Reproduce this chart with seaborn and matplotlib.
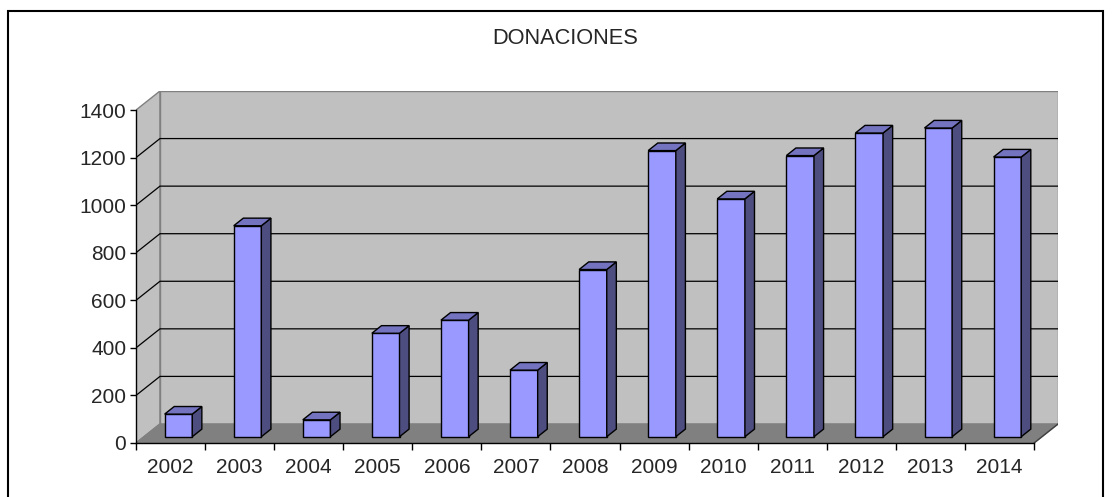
import seaborn as sns
import matplotlib

matplotlib.use("Agg")
import matplotlib.pyplot as plt
from matplotlib.patches import Polygon, Rectangle

years = ["2002", "2003", "2004", "2005", "2006", "2007", "2008",
         "2009", "2010", "2011", "2012", "2013", "2014"]
donaciones = [95, 887, 71, 435, 490, 280, 703, 1203, 1000, 1182, 1277, 1298, 1176]
y_ticks = [0, 200, 400, 600, 800, 1000, 1200, 1400]

# fake 3d depth in data units
DX = 0.347
DY = 80
FRONT = 0.33   # where the bars start inside the floor
DEPTH = 0.40   # bar depth as fraction of the floor depth

sns.set_style("white")
plt.rcParams["font.family"] = ["Liberation Sans", "DejaVu Sans"]
plt.rcParams["font.size"] = 15

fig = plt.figure(figsize=(11.12, 4.97), dpi=100)
ax = fig.add_axes([136 / 1112, 54 / 497, 922 / 1112, 352 / 497])

n = len(years)
x0, x1 = -0.5, n - 0.5
top = y_ticks[-1]

# walls and floor
ax.add_patch(Polygon([(x0, 0), (x0, top), (x0 + DX, top + DY), (x0 + DX, DY)],
                     closed=True, facecolor="#c0c0c0", edgecolor="#808080", lw=1, zorder=0))
ax.add_patch(Rectangle((x0 + DX, DY), x1 - x0, top, facecolor="#c0c0c0",
                       edgecolor="#808080", lw=1, zorder=0))
ax.add_patch(Polygon([(x0, 0), (x1, 0), (x1 + DX, DY), (x0 + DX, DY)],
                     closed=True, facecolor="#808080", edgecolor="#808080", lw=1, zorder=0.5))
ax.plot([x1, x1 + DX], [0, DY], color="#404040", lw=1, zorder=0.6)

for v in y_ticks[1:-1]:
    ax.plot([x0, x0 + DX, x1 + DX], [v, v + DY, v + DY], color="black", lw=0.9, zorder=0.4)

sns.barplot(x=years, y=donaciones, color="#9999ff", saturation=1, width=0.4,
            edgecolor="black", linewidth=1.0, ax=ax, zorder=2)

for p in ax.patches:
    if not isinstance(p, Rectangle) or p.get_width() > 1:
        continue
    p.set_x(p.get_x() + FRONT * DX)
    p.set_y(FRONT * DY)
    bx0, by0 = p.get_x(), p.get_y()
    bx1, by1 = bx0 + p.get_width(), by0 + p.get_height()
    ddx, ddy = DEPTH * DX, DEPTH * DY
    ax.add_patch(Polygon([(bx1, by0), (bx1 + ddx, by0 + ddy), (bx1 + ddx, by1 + ddy), (bx1, by1)],
                         closed=True, facecolor="#4d4d80", edgecolor="black", lw=1.0, zorder=2))
    ax.add_patch(Polygon([(bx0, by1), (bx1, by1), (bx1 + ddx, by1 + ddy), (bx0 + ddx, by1 + ddy)],
                         closed=True, facecolor="#7373bf", edgecolor="black", lw=1.0, zorder=2))

ax.set_xlim(x0, x1 + DX)
ax.set_ylim(0, top + DY)
ax.set_xlabel("")
ax.set_ylabel("")

ax.set_yticks(y_ticks)
ax.set_xticks(range(n))
ax.set_xticklabels(years)
ax.set_xticks([i - 0.5 for i in range(n + 1)], minor=True)
ax.tick_params(axis="x", which="major", length=0, pad=11, labelsize=15)
ax.tick_params(axis="x", which="minor", length=5, width=1, color="black", direction="out")
ax.tick_params(axis="y", length=4, width=1, color="black", direction="out", pad=3, labelsize=15)
ax.xaxis.set_ticks_position("bottom")
ax.yaxis.set_ticks_position("left")

for s in ["top", "right"]:
    ax.spines[s].set_visible(False)
ax.spines["left"].set_bounds(0, top)
ax.spines["bottom"].set_bounds(x0, x1)
for s in ["left", "bottom"]:
    ax.spines[s].set_color("black")
    ax.spines[s].set_linewidth(1)
    ax.spines[s].set_zorder(3)

fig.text(565 / 1112, 1 - 38 / 497, "DONACIONES", ha="center", va="center", fontsize=15.7)
fig.add_artist(Rectangle((8 / 1112, -0.1), 1095 / 1112, 1.1 - 11 / 497,
                         transform=fig.transFigure, fill=False, edgecolor="black",
                         lw=1.5, clip_on=False))

plt.savefig("out.png", dpi=100)
plt.close()
